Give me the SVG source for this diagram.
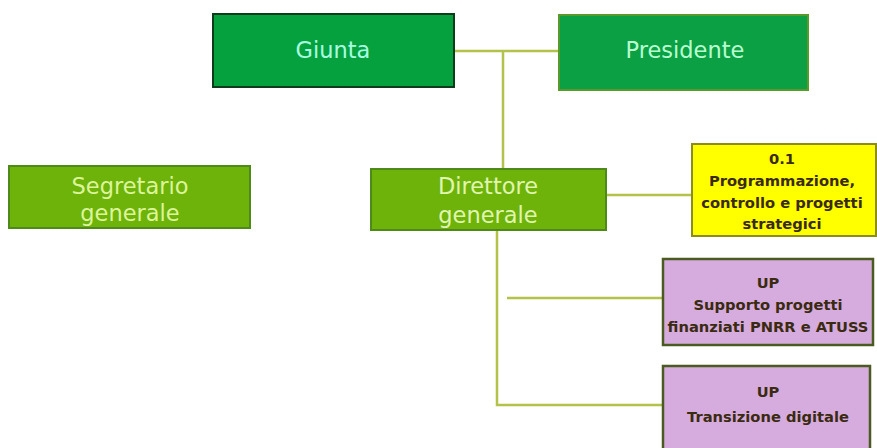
<svg xmlns="http://www.w3.org/2000/svg" width="877" height="448" viewBox="0 0 877 448">
<style>
text{font-family:"DejaVu Sans","Liberation Sans",sans-serif;text-anchor:middle}
.big{font-size:22.5px}
.small{font-size:14.7px;font-weight:bold;fill:#3a2a10}
.g1{fill:#06a13f;stroke:#0b3d1c;stroke-width:2}
.g2{fill:#0aa043;stroke:#5a9a2a;stroke-width:2}
.l{fill:#6db30a;stroke:#4e8a1a;stroke-width:2}
.y{fill:#ffff00;stroke:#8c8c1e;stroke-width:2}
.p{fill:#d6acdf;stroke:#4a5a20;stroke-width:2.5}
.conn{stroke:#b2c24a;stroke-width:2.5;fill:none}
</style>
<rect width="877" height="448" fill="#ffffff"/>
<g id="connectors">
<path class="conn" d="M455 51 H558"/>
<path class="conn" d="M503 52 V168"/>
<path class="conn" d="M606 195 H692"/>
<path class="conn" d="M497 230 V405 H662"/>
<path class="conn" d="M507 298 H662"/>
</g>
<g id="giunta">
<rect class="g1" x="213" y="14" width="241" height="73"/>
<text class="big" x="333" y="58" fill="#a8ffe0">Giunta</text>
</g>
<g id="presidente">
<rect class="g2" x="559" y="15" width="249" height="75"/>
<text class="big" x="685" y="58" fill="#b8ffd0">Presidente</text>
</g>
<g id="segretario">
<rect class="l" x="9" y="166" width="241" height="62"/>
<text class="big" x="130" y="194" fill="#ddf59a">Segretario</text>
<text class="big" x="130" y="221" fill="#ddf59a">generale</text>
</g>
<g id="direttore">
<rect class="l" x="371" y="169" width="235" height="61"/>
<text class="big" x="488" y="194" fill="#e0f5b0">Direttore</text>
<text class="big" x="488" y="223" fill="#e0f5b0">generale</text>
</g>
<g id="programmazione">
<rect class="y" x="692" y="144" width="184" height="92"/>
<text class="small" x="782" y="164">0.1</text>
<text class="small" x="782" y="186">Programmazione,</text>
<text class="small" x="782" y="208">controllo e progetti</text>
<text class="small" x="782" y="229">strategici</text>
</g>
<g id="supporto">
<rect class="p" x="663" y="259" width="210" height="86"/>
<text class="small" x="768" y="288">UP</text>
<text class="small" x="768" y="310">Supporto progetti</text>
<text class="small" x="768" y="332">finanziati PNRR e ATUSS</text>
</g>
<g id="transizione">
<rect class="p" x="663" y="366" width="207" height="90"/>
<text class="small" x="768" y="397">UP</text>
<text class="small" x="768" y="422">Transizione digitale</text>
</g>
</svg>
